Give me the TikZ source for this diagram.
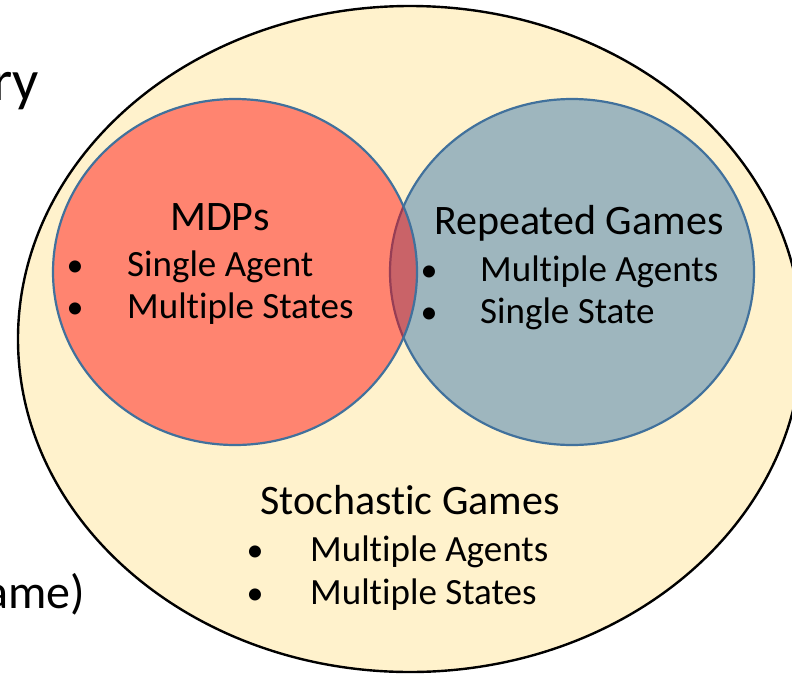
\documentclass[tikz,border=0pt]{standalone}
\usepackage{fontspec}
\setmainfont[RawFeature={-liga}]{Carlito}
\definecolor{cream}{RGB}{255,242,204}
\definecolor{slate}{RGB}{158,182,190}
\definecolor{rim}{RGB}{65,113,156}

\begin{document}
\begin{tikzpicture}[x=1pt,y=-1pt,
  head/.style={font=\fontsize{42}{50}\selectfont, inner sep=0pt, anchor=base west},
  item/.style={font=\fontsize{37}{44}\selectfont, inner sep=0pt, anchor=base west},
  bul/.style={font=\fontsize{34}{44}\selectfont, inner sep=0pt, anchor=base},
  side/.style={inner sep=0pt, anchor=base east},
  set/.style={draw=rim, line width=2.2pt}]
\useasboundingbox (0,0) rectangle (792,675);
\clip (0,0) rectangle (792,675);

% outer set: stochastic games
\draw[line width=2.4pt, fill=cream] (410,339) ellipse [x radius=392pt, y radius=333pt];

% repeated games
\draw[set, fill=slate] (572,272) ellipse [x radius=182pt, y radius=173pt];

% MDPs, translucent red on top
\draw[set, fill=red, fill opacity=0.45] (235,272) ellipse [x radius=182pt, y radius=173pt];

% fragments of surrounding slide text
\node[side, font=\fontsize{58}{66}\selectfont] (frag1) at (39,100) {ry};
\node[side, font=\fontsize{48}{56}\selectfont] (frag2) at (85,608) {ame)};

% MDPs
\node[head] (mdp) at (170,230) {MDPs};
\node[bul] (mb1) at (75,276) {•};
\node[item] (m1) at (127,276) {Single Agent};
\node[bul] (mb2) at (75,318) {•};
\node[item] (m2) at (127,318) {Multiple States};

% Repeated games
\node[head] (rep) at (434,234) {Repeated Games};
\node[bul] (rb1) at (429,281) {•};
\node[item] (r1) at (480,281) {Multiple Agents};
\node[bul] (rb2) at (429,323) {•};
\node[item] (r2) at (480,323) {Single State};

% Stochastic games
\node[head] (sto) at (260,514) {Stochastic Games};
\node[bul] (sb1) at (255,561) {•};
\node[item] (s1) at (310,561) {Multiple Agents};
\node[bul] (sb2) at (255,604) {•};
\node[item] (s2) at (310,604) {Multiple States};
\end{tikzpicture}
\end{document}
